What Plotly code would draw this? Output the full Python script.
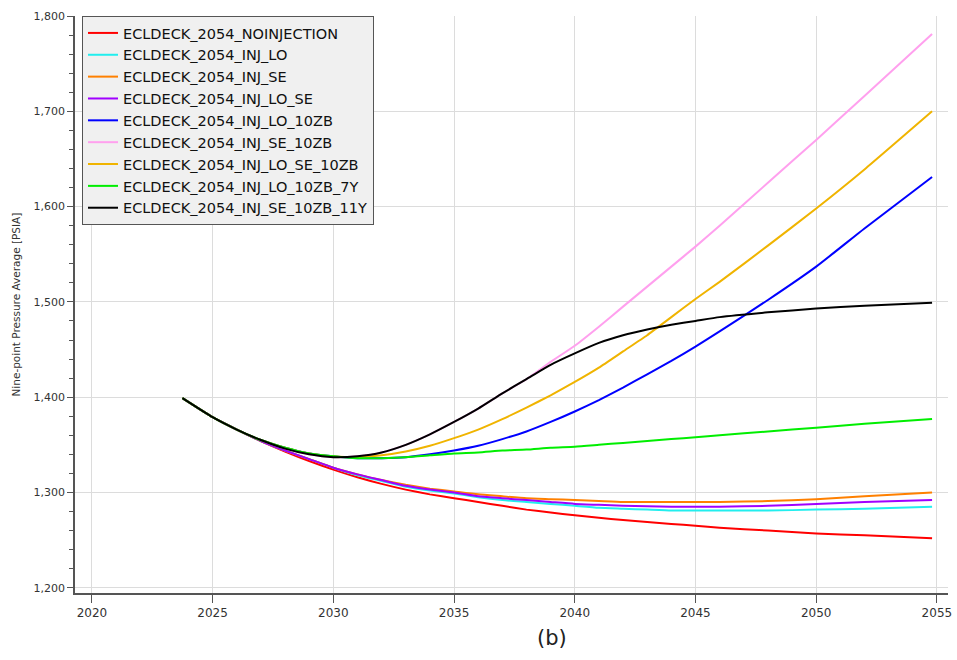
import plotly.graph_objects as go

years = [2023.75, 2025, 2026, 2027, 2028, 2029, 2030, 2031, 2032, 2033, 2034, 2035, 2036,
         2037, 2038, 2039, 2040, 2041, 2042, 2043, 2044, 2045, 2046, 2048, 2050, 2052, 2054.8]

noinjection = [1399, 1379, 1366, 1354, 1343, 1333, 1324, 1316, 1309, 1303, 1298, 1294, 1290,
               1286, 1282, 1279, 1276, 1273.5, 1271, 1269, 1267, 1265, 1263, 1260, 1257, 1255, 1252]
inj_lo = [1399, 1379, 1366, 1354, 1344, 1335, 1326, 1318, 1312, 1306, 1302, 1299, 1295,
          1292, 1290, 1288, 1286, 1284, 1283, 1282, 1281, 1281, 1281, 1281, 1282, 1283, 1285]
inj_se = [1399, 1379, 1366, 1354, 1344, 1335, 1326, 1319, 1313, 1308, 1304, 1301, 1298,
          1296, 1294, 1293, 1292, 1291, 1290, 1290, 1290, 1290, 1290, 1291, 1293, 1296, 1300]
inj_lo_se = [1399, 1379, 1366, 1354, 1344, 1335, 1326, 1319, 1313, 1307, 1303, 1300, 1296,
             1294, 1292, 1290, 1288, 1287, 1286, 1285.5, 1285, 1285, 1285, 1286, 1288, 1290, 1292]
inj_lo_10zb = [1399, 1379, 1366, 1355, 1347, 1341, 1338, 1336, 1336, 1337, 1340, 1344, 1349,
               1356, 1364, 1374, 1385, 1397, 1410, 1424, 1438, 1453, 1469, 1502, 1537, 1577, 1631]
inj_se_10zb = [1399, 1379, 1366, 1355, 1346, 1340, 1337, 1338, 1342, 1350, 1361, 1374, 1388,
               1404, 1419, 1437, 1454, 1474, 1495, 1516, 1537, 1558, 1580, 1625, 1670, 1716, 1781]
inj_lo_se_10zb = [1399, 1379, 1366, 1355, 1347, 1341, 1338, 1337, 1339, 1343, 1349, 1357, 1366,
                  1377, 1389, 1402, 1416, 1431, 1448, 1465, 1484, 1503, 1521, 1559, 1598, 1639, 1700]
inj_lo_10zb_7y = [1399, 1379, 1366, 1355, 1347, 1341, 1338, 1336, 1336, 1337, 1339, 1341, 1342,
                  1344, 1345, 1347, 1348, 1350, 1352, 1354, 1356, 1358, 1360, 1364, 1368, 1372, 1377]
inj_se_10zb_11y = [1399, 1379, 1366, 1355, 1346, 1340, 1337, 1338, 1342, 1350, 1361, 1374, 1388,
                   1404, 1419, 1434, 1446, 1457, 1465, 1471, 1476, 1480, 1484, 1489, 1493, 1496, 1499]

series_names = ["ECLDECK_2054_NOINJECTION", "ECLDECK_2054_INJ_LO", "ECLDECK_2054_INJ_SE",
                "ECLDECK_2054_INJ_LO_SE", "ECLDECK_2054_INJ_LO_10ZB", "ECLDECK_2054_INJ_SE_10ZB",
                "ECLDECK_2054_INJ_LO_SE_10ZB", "ECLDECK_2054_INJ_LO_10ZB_7Y",
                "ECLDECK_2054_INJ_SE_10ZB_11Y"]
series_values = [noinjection, inj_lo, inj_se, inj_lo_se, inj_lo_10zb, inj_se_10zb,
                 inj_lo_se_10zb, inj_lo_10zb_7y, inj_se_10zb_11y]
colors = ["#ff0000", "#22eeee", "#ff8000", "#a000ff", "#0000ff", "#ffa0ee",
          "#f0b400", "#00ee00", "#000000"]

x_ticks = [2020, 2025, 2030, 2035, 2040, 2045, 2050, 2055]
y_ticks = [1200, 1300, 1400, 1500, 1600, 1700, 1800]

fig = go.Figure()
for name, vals, col in zip(series_names, series_values, colors):
    fig.add_trace(go.Scatter(x=years, y=vals, name=name, mode="lines",
                             line=dict(color=col, width=2, shape="spline", smoothing=0.5)))

axis_font = dict(family="DejaVu Sans", size=11, color="#333333")
fig.update_layout(
    width=957, height=660,
    margin=dict(l=75, r=9, t=16, b=67),
    paper_bgcolor="white", plot_bgcolor="white",
    showlegend=True,
    legend=dict(x=0.008, y=1.0, xanchor="left", yanchor="top",
                bgcolor="#f0f0f0", bordercolor="#555555", borderwidth=1,
                font=dict(family="DejaVu Sans", size=14.5, color="#111111"),
                itemwidth=30, tracegroupgap=0),
    xaxis=dict(range=[2019.3, 2055.46], tickvals=x_ticks, ticktext=[str(t) for t in x_ticks],
               showgrid=True, gridcolor="#dcdcdc", gridwidth=1,
               showline=True, linecolor="#555555", linewidth=1.5,
               ticks="outside", ticklen=8, tickcolor="#555555",
               tickfont=dict(family="DejaVu Sans", size=12, color="#333333"),
               zeroline=False, automargin=False),
    yaxis=dict(range=[1194.5, 1800], tickvals=y_ticks, tickformat=",d",
               showgrid=True, gridcolor="#dcdcdc", gridwidth=1,
               showline=True, linecolor="#555555", linewidth=1.5,
               ticks="outside", ticklen=6, tickcolor="#555555",
               minor=dict(dtick=20, ticks="outside", ticklen=4, tickcolor="#555555", showgrid=False),
               tickfont=axis_font, zeroline=False, automargin=False),
    annotations=[
        dict(text="Nine-point Pressure Average [PSIA]", x=-0.0676, y=0.5,
             xref="paper", yref="paper", textangle=-90, showarrow=False,
             xanchor="center", yanchor="middle",
             font=dict(family="DejaVu Sans", size=10.5, color="#333333")),
        dict(text="(b)", x=0.546, y=-0.078, xref="paper", yref="paper",
             showarrow=False, xanchor="center", yanchor="middle",
             font=dict(family="DejaVu Sans", size=21, color="#222222")),
    ],
)

fig.write_html("out.html", config={"displayModeBar": False},
               post_script="document.body.style.margin='0px';")
